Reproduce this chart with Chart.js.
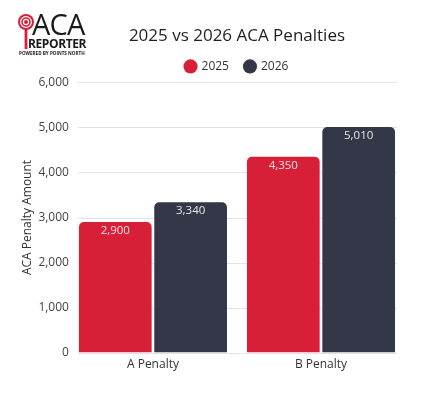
<!DOCTYPE html>
<html>
<head>
<meta charset="utf-8">
<script src="https://cdn.jsdelivr.net/npm/chart.js@4"></script>
<style>
    body { margin: 0; background: #fff; }
    #wrap { position: relative; width: 443px; height: 401px; }
    #logo { position: absolute; left: 17px; top: 12px; width: 72px; height: 46px; font-family: 'Open Sans', sans-serif; }
    #logo svg { position: absolute; left: 0; top: 0; }
    #logo .aca { position: absolute; left: 15px; top: -3px; font-size: 29px; letter-spacing: -0.8px; color: #1a1a1a; line-height: 29px; }
    #logo .rep { position: absolute; left: 11px; top: 26px; font-size: 12px; font-weight: 700; color: #1a1a1a; line-height: 12px; letter-spacing: -0.4px; }
    #logo .pow { position: absolute; left: 2px; top: 39px; font-size: 4.6px; font-weight: 700; color: #1a1a1a; line-height: 5px; white-space: nowrap; }
</style>
</head>
<body>
<div id="wrap">
    <canvas id="chart" width="443" height="401"></canvas>
    <div id="logo">
        <svg width="20" height="38" viewBox="0 0 20 38">
            <circle cx="9" cy="10" r="8" fill="#d81f38"/>
            <circle cx="9" cy="10" r="5.4" fill="none" stroke="#fff" stroke-width="1.2"/>
            <circle cx="9" cy="10" r="2.6" fill="none" stroke="#fff" stroke-width="1.2"/>
            <rect x="7.6" y="17" width="2.8" height="20" fill="#d81f38"/>
        </svg>
        <div class="aca">ACA</div>
        <div class="rep">REPORTER</div>
        <div class="pow">POWERED BY POINTS NORTH</div>
    </div>
</div>
<script>
const categories = ['A Penalty', 'B Penalty'];
const seriesNames = ['2025', '2026'];
const values2025 = [2900, 4350];
const values2026 = [3340, 5010];
const yTicks = [0, 1000, 2000, 3000, 4000, 5000, 6000];

const FONT = "'Open Sans', sans-serif";
const RED = '#d81f38';
const NAVY = '#333747';

// grid lines are inset from the bar area, so draw them from the y scale ticks
const insetGrid = {
    id: 'insetGrid',
    beforeDatasetsDraw(chart) {
        const { ctx, chartArea, scales } = chart;
        ctx.save();
        ctx.strokeStyle = '#e3e3e3';
        ctx.lineWidth = 1;
        scales.y.ticks.forEach((tick) => {
            const y = Math.round(scales.y.getPixelForValue(tick.value)) + 0.5;
            ctx.beginPath();
            ctx.moveTo(chartArea.left + 9, y);
            ctx.lineTo(chartArea.right - 8, y);
            ctx.stroke();
        });
        ctx.restore();
    }
};

const barValues = {
    id: 'barValues',
    afterDatasetsDraw(chart) {
        const { ctx } = chart;
        ctx.save();
        ctx.font = `11.5px ${FONT}`;
        ctx.fillStyle = 'rgba(255,255,255,0.88)';
        ctx.textAlign = 'center';
        ctx.textBaseline = 'middle';
        chart.data.datasets.forEach((ds, i) => {
            chart.getDatasetMeta(i).data.forEach((bar, j) => {
                ctx.fillText(ds.data[j].toLocaleString('en-US'), bar.x, bar.y + 9);
            });
        });
        ctx.restore();
    }
};

new Chart(document.getElementById('chart'), {
    type: 'bar',
    data: {
        labels: categories,
        datasets: [
            { label: seriesNames[0], data: values2025, backgroundColor: RED },
            { label: seriesNames[1], data: values2026, backgroundColor: NAVY }
        ]
    },
    options: {
        responsive: false,
        animation: false,
        layout: { padding: { left: 16, right: 38, top: 0, bottom: 24 } },
        datasets: {
            bar: { categoryPercentage: 0.897, barPercentage: 0.965, borderRadius: 5 }
        },
        plugins: {
            title: {
                display: true,
                fullSize: false,
                text: '2025 vs 2026 ACA Penalties',
                color: '#1f1f1f',
                font: { family: FONT, size: 17, weight: 'normal' },
                padding: { top: 26, bottom: -2 }
            },
            legend: {
                fullSize: false,
                labels: {
                    usePointStyle: true,
                    pointStyle: 'circle',
                    boxWidth: 10,
                    boxHeight: 10,
                    padding: 16,
                    color: '#333',
                    font: { family: FONT, size: 12 }
                }
            },
            tooltip: { enabled: false }
        },
        scales: {
            x: {
                grid: { display: false, drawTicks: false },
                border: { display: false },
                ticks: { color: '#333', padding: 5, font: { family: FONT, size: 12 } }
            },
            y: {
                min: 0,
                max: 6000,
                afterBuildTicks: (scale) => { scale.ticks = yTicks.map((v) => ({ value: v })); },
                grid: { display: false, drawTicks: false },
                border: { display: false },
                ticks: {
                    color: '#444',
                    padding: 0,
                    font: { family: FONT, size: 12 },
                    callback: (v) => v.toLocaleString('en-US')
                },
                title: {
                    display: true,
                    text: 'ACA Penalty Amount',
                    color: '#333',
                    font: { family: FONT, size: 12 },
                    padding: { top: 4, bottom: 4 }
                }
            }
        }
    },
    plugins: [insetGrid, barValues]
});
</script>
</body>
</html>
